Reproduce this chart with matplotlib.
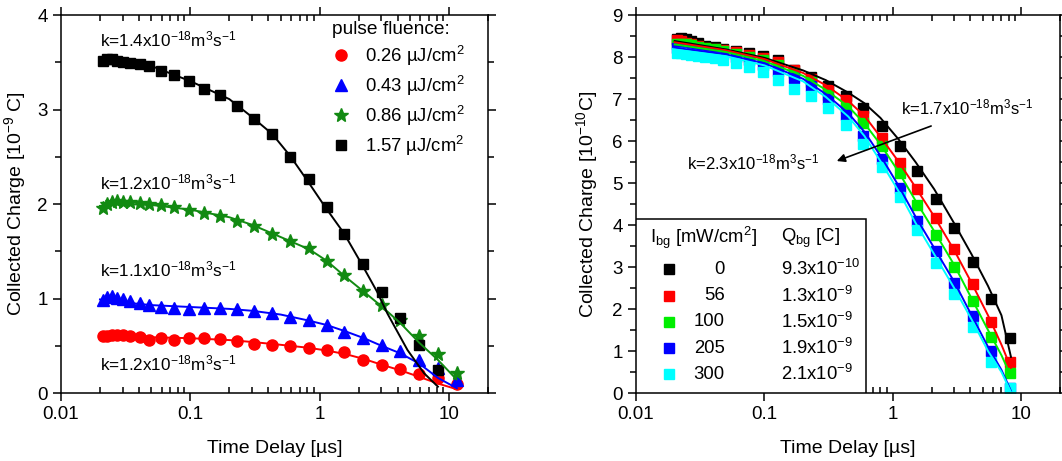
import numpy as np
import matplotlib
matplotlib.use("Agg")
import matplotlib.pyplot as plt
from matplotlib.ticker import FixedLocator, FixedFormatter, LogLocator, MultipleLocator, NullFormatter
from matplotlib.patches import Rectangle

plt.rcParams["font.family"] = ["Liberation Sans", "DejaVu Sans"]
plt.rcParams["mathtext.fontset"] = "custom"
plt.rcParams["mathtext.rm"] = "Liberation Sans"
plt.rcParams["mathtext.it"] = "Liberation Sans:italic"
plt.rcParams["mathtext.bf"] = "Liberation Sans:bold"

# ---------------- left panel data ----------------
t_left = [0.021, 0.0226, 0.0247, 0.027, 0.0304, 0.0343, 0.041, 0.0475, 0.0596, 0.0752,
          0.0977, 0.127, 0.170, 0.230, 0.313, 0.430, 0.589, 0.826, 1.13, 1.54,
          2.18, 3.01, 4.17, 5.85, 8.22, 11.5]

q_026 = [0.60, 0.60, 0.61, 0.61, 0.61, 0.60, 0.59, 0.56, 0.58, 0.56,
         0.58, 0.58, 0.57, 0.55, 0.52, 0.51, 0.50, 0.48, 0.46, 0.43,
         0.35, 0.30, 0.25, 0.20, 0.155, 0.10]
q_043 = [0.98, 1.02, 1.03, 1.01, 0.99, 0.97, 0.95, 0.93, 0.91, 0.90,
         0.89, 0.90, 0.90, 0.89, 0.87, 0.85, 0.80, 0.77, 0.72, 0.65,
         0.58, 0.51, 0.44, 0.35, 0.26, 0.14]
q_086 = [1.96, 2.00, 2.02, 2.03, 2.02, 2.02, 2.01, 2.00, 1.99, 1.97,
         1.94, 1.90, 1.87, 1.82, 1.77, 1.68, 1.61, 1.53, 1.40, 1.25,
         1.08, 0.93, 0.77, 0.60, 0.41, 0.21]
q_157 = [3.51, 3.53, 3.53, 3.51, 3.50, 3.49, 3.48, 3.46, 3.41, 3.37,
         3.30, 3.22, 3.15, 3.04, 2.90, 2.74, 2.50, 2.26, 1.97, 1.68,
         1.37, 1.07, 0.79, 0.51, 0.24]

# fitted curves
fit_t_red = [0.02, 0.05, 0.1, 0.2, 0.3, 0.5, 0.8, 1.13, 1.6, 2.2, 3.0, 4.2, 5.9, 8.2, 11.5]
fit_red = [0.60, 0.59, 0.58, 0.56, 0.54, 0.51, 0.48, 0.45, 0.41, 0.36, 0.30, 0.24, 0.17, 0.10, 0.04]
fit_t_blue = [0.02, 0.03, 0.05, 0.1, 0.2, 0.3, 0.5, 0.8, 1.13, 1.6, 2.2, 3.0, 4.2, 5.9, 8.2, 11.5]
fit_blue = [0.99, 0.96, 0.93, 0.91, 0.89, 0.87, 0.83, 0.77, 0.72, 0.65, 0.58, 0.50, 0.42, 0.31, 0.16, 0.05]
fit_t_green = [0.02, 0.03, 0.05, 0.1, 0.2, 0.3, 0.5, 0.83, 1.13, 1.58, 2.2, 3.05, 4.2, 5.9, 8.2, 11.4]
fit_green = [1.98, 2.00, 1.99, 1.94, 1.86, 1.78, 1.65, 1.52, 1.40, 1.23, 1.07, 0.91, 0.74, 0.53, 0.35, 0.145]
fit_t_black = [0.021, 0.03, 0.05, 0.1, 0.2, 0.3, 0.43, 0.59, 0.8, 1.1, 1.54, 2.1, 2.78, 3.34, 4.77, 6.4, 8.2]
fit_black = [3.53, 3.50, 3.46, 3.30, 3.11, 2.92, 2.74, 2.51, 2.25, 1.97, 1.69, 1.37, 1.07, 0.84, 0.455, 0.21, 0.067]

fluence_labels = ["0.26 µJ/cm$^2$", "0.43 µJ/cm$^2$", "0.86 µJ/cm$^2$", "1.57 µJ/cm$^2$"]
k_left = ["k=1.4x10$^{-18}$m$^3$s$^{-1}$", "k=1.2x10$^{-18}$m$^3$s$^{-1}$",
          "k=1.1x10$^{-18}$m$^3$s$^{-1}$", "k=1.2x10$^{-18}$m$^3$s$^{-1}$"]
k_left_y = [3.74, 2.23, 1.31, 0.31]

# ---------------- right panel data ----------------
t_right = t_left[:25]
q_0 = [8.44, 8.45, 8.43, 8.38, 8.33, 8.27, 8.23, 8.20, 8.15, 8.10,
       8.02, 7.93, 7.69, 7.52, 7.30, 7.07, 6.78, 6.36, 5.88, 5.29,
       4.63, 3.92, 3.13, 2.25, 1.30]
q_56 = [8.40, 8.38, 8.34, 8.30, 8.26, 8.22, 8.20, 8.17, 8.13, 8.05,
        7.97, 7.88, 7.70, 7.48, 7.22, 6.98, 6.60, 6.06, 5.48, 4.85,
        4.16, 3.42, 2.60, 1.70, 0.75]
q_100 = [8.32, 8.32, 8.30, 8.28, 8.25, 8.22, 8.18, 8.14, 8.08, 8.01,
         7.92, 7.80, 7.62, 7.40, 7.10, 6.78, 6.42, 5.87, 5.23, 4.48,
         3.76, 3.01, 2.19, 1.34, 0.47]
q_205 = [8.22, 8.22, 8.21, 8.19, 8.17, 8.14, 8.10, 8.06, 8.00, 7.92,
         7.80, 7.66, 7.50, 7.30, 7.00, 6.62, 6.12, 5.56, 4.87, 4.10,
         3.38, 2.63, 1.83, 1.00, 0.11]
q_300 = [8.09, 8.09, 8.07, 8.05, 8.03, 8.01, 7.97, 7.93, 7.85, 7.77,
         7.65, 7.45, 7.25, 7.06, 6.78, 6.38, 5.94, 5.37, 4.66, 3.88,
         3.10, 2.36, 1.58, 0.75, 0.11]

fit_t_right = [0.02, 0.05, 0.1, 0.2, 0.3, 0.45, 0.6, 0.8, 1.1, 1.5, 2.1, 3.0, 4.1, 5.5, 7.0, 8.3]
fit_0 = [8.38, 8.18, 7.98, 7.68, 7.45, 7.15, 6.90, 6.55, 6.05, 5.50, 4.85, 4.04, 3.30, 2.55, 1.85, 0.86]
fit_56 = [8.35, 8.16, 7.95, 7.62, 7.33, 6.95, 6.60, 6.10, 5.52, 4.90, 4.20, 3.40, 2.62, 1.85, 1.15, 0.60]
fit_100 = [8.30, 8.12, 7.90, 7.55, 7.22, 6.82, 6.42, 5.92, 5.28, 4.58, 3.85, 3.05, 2.25, 1.50, 0.90, 0.40]
fit_205 = [8.22, 8.06, 7.85, 7.48, 7.12, 6.66, 6.22, 5.65, 4.95, 4.20, 3.45, 2.65, 1.85, 1.10, 0.55, 0.05]
fit_300 = [8.18, 8.02, 7.80, 7.42, 7.05, 6.58, 6.12, 5.52, 4.82, 4.05, 3.30, 2.50, 1.75, 1.00, 0.50, 0.02]

ibg_labels = ["0", "56", "100", "205", "300"]
qbg_labels = ["9.3x10$^{-10}$", "1.3x10$^{-9}$", "1.5x10$^{-9}$", "1.9x10$^{-9}$", "2.1x10$^{-9}$"]
right_colors = ["black", "#ff0000", "#00ee00", "#0000ff", "#00ffff"]

# ---------------- figure ----------------
fig = plt.figure(figsize=(10.62, 4.61), dpi=100)
ax1 = fig.add_axes([61 / 1062, 68 / 461, 427 / 1062, 378 / 461])
ax2 = fig.add_axes([636 / 1062, 68 / 461, 424 / 1062, 378 / 461])


def style_axis(ax, ymax):
    ax.set_xscale("log")
    ax.set_xlim(0.01, 20)
    ax.set_ylim(0, ymax)
    ax.xaxis.set_major_locator(FixedLocator([0.01, 0.1, 1, 10]))
    ax.xaxis.set_major_formatter(FixedFormatter(["0.01", "0.1", "1", "10"]))
    ax.xaxis.set_minor_locator(LogLocator(base=10, subs=np.arange(2, 10), numticks=20))
    ax.xaxis.set_minor_formatter(NullFormatter())
    ax.yaxis.set_major_locator(MultipleLocator(1))
    ax.yaxis.set_minor_locator(MultipleLocator(0.5))
    ax.tick_params(which="both", top=True, right=True, labelsize=13.5, width=1.1)
    ax.tick_params(axis="x", which="major", direction="out", length=6)
    ax.tick_params(axis="x", which="minor", direction="in", length=4)
    ax.tick_params(axis="y", which="major", direction="out", length=6)
    ax.tick_params(axis="y", which="minor", direction="out", length=4)
    for s in ax.spines.values():
        s.set_linewidth(1.1)
    ax.set_xlabel("Time Delay [µs]", fontsize=14)
    ax.xaxis.set_label_coords(0.5, -0.125)


# left panel
style_axis(ax1, 4)
h_red, = ax1.plot(t_left, q_026, "o", color="#ff0000", ms=8, ls="none")
h_blue, = ax1.plot(t_left, q_043, "^", color="#0000ff", ms=8.5, ls="none")
h_green, = ax1.plot(t_left, q_086, "*", color="#128a12", ms=10.5, ls="none")
h_black, = ax1.plot(t_left[:25], q_157, "s", color="black", ms=7.2, ls="none")
ax1.plot(fit_t_red, fit_red, "-", color="#ff0000", lw=1.4)
ax1.plot(fit_t_blue, fit_blue, "-", color="#0000ff", lw=1.4)
ax1.plot(fit_t_green, fit_green, "-", color="#128a12", lw=1.4)
ax1.plot(fit_t_black, fit_black, "-", color="black", lw=1.4)

for txt, yk in zip(k_left, k_left_y):
    ax1.text(0.0201, yk, txt, fontsize=12.3, ha="left", va="center")

ax1.legend([h_red, h_blue, h_green, h_black], fluence_labels, title="pulse fluence:",
           loc="upper left", bbox_to_anchor=(0.634, 0.985), frameon=False,
           fontsize=13.3, title_fontsize=13.8, alignment="left",
           handlelength=1.0, handletextpad=0.8, labelspacing=0.32,
           borderpad=0, borderaxespad=0)
ax1.set_ylabel("Collected Charge [10$^{-9}$ C]", fontsize=14)
ax1.yaxis.set_label_coords(-0.078, 0.5)

# right panel
style_axis(ax2, 9)
for q, c in zip([q_0, q_56, q_100, q_205, q_300], right_colors):
    ax2.plot(t_right, q, "s", color=c, ms=7.5, ls="none")
for f, c in zip([fit_0, fit_56, fit_100, fit_205, fit_300], right_colors):
    ax2.plot(fit_t_right, f, "-", color=c, lw=1.4)

ax2.text(1.153, 6.81, "k=1.7x10$^{-18}$m$^3$s$^{-1}$", fontsize=12, ha="left", va="center")
ax2.text(0.0248, 5.48, "k=2.3x10$^{-18}$m$^3$s$^{-1}$", fontsize=12, ha="left", va="center")
ax2.annotate("", xy=(0.349, 5.5), xytext=(2.08, 6.38),
             arrowprops=dict(arrowstyle="-|>", color="black", lw=1.2, mutation_scale=12))

ax2.add_patch(Rectangle((0, 0), 0.5435, 0.46, transform=ax2.transAxes,
                        facecolor="white", edgecolor="black", lw=1.1, zorder=5))
ax2.text(0.033, 0.41, "I$_{\\mathrm{bg}}$ [mW/cm$^2$]", transform=ax2.transAxes,
         fontsize=13.3, ha="left", va="center", zorder=6)
ax2.text(0.341, 0.41, "Q$_{\\mathrm{bg}}$ [C]", transform=ax2.transAxes,
         fontsize=13.3, ha="left", va="center", zorder=6)
row_y = [0.328, 0.257, 0.188, 0.119, 0.050]
for ry, lab, ql, c in zip(row_y, ibg_labels, qbg_labels, right_colors):
    ax2.plot([0.078], [ry], "s", color=c, ms=7.5, transform=ax2.transAxes, zorder=6, clip_on=False)
    ax2.text(0.209, ry, lab, transform=ax2.transAxes, fontsize=13.3, ha="right", va="center", zorder=6)
    ax2.text(0.341, ry, ql, transform=ax2.transAxes, fontsize=13.3, ha="left", va="center", zorder=6)

ax2.set_ylabel("Collected Charge [10$^{-10}$C]", fontsize=14)
ax2.yaxis.set_label_coords(-0.085, 0.5)

fig.savefig("out.png", dpi=100)
